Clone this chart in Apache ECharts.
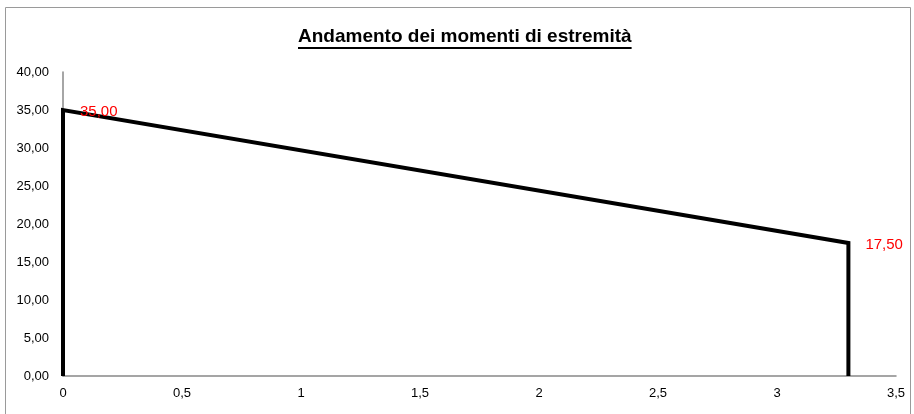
<!DOCTYPE html>
<html>
<head>
<meta charset="utf-8">
<script src="https://cdn.jsdelivr.net/npm/echarts@6/dist/echarts.min.js"></script>
<style>
  html, body { margin: 0; padding: 0; background: #fff; }
  #chart { width: 914px; height: 414px; }
</style>
</head>
<body>
<div id="chart"></div>
<script>
// Moment diagram along the beam: x position (m) and end moment values
const positions = [0, 0, 3.3, 3.3];
const moments = [0, 35.0, 17.5, 0];
const labelledPoints = [1, 2];   // indices that show their value
const titleText = 'Andamento dei momenti di estremità';

const comma = (v, d) => v.toFixed(d).replace('.', ',');
const xFmt = v => String(v).replace('.', ',');

const chart = echarts.init(document.getElementById('chart'));

// title is centred a little right of the page centre; measure it for the underline
const titleFamily = '"Liberation Sans", Arial, sans-serif';
const titleSize = 19;
const ctx = document.createElement('canvas').getContext('2d');
ctx.font = 'bold ' + titleSize + 'px ' + titleFamily;
const tw = ctx.measureText(titleText).width;
const cx = 465;

const data = positions.map((x, i) => ({
  value: [x, moments[i]],
  label: { show: labelledPoints.includes(i) }
}));

chart.setOption({
  animation: false,
  title: {
    text: titleText,
    left: Math.round(cx - tw / 2),
    top: 27,
    padding: 0,
    textStyle: {
      fontFamily: titleFamily,
      fontWeight: 'bold',
      fontSize: titleSize,
      color: '#000'
    }
  },
  graphic: [
    { type: 'rect', shape: { x: 5.5, y: 7.5, width: 905, height: 430 },
      style: { fill: 'none', stroke: '#9a9a9a', lineWidth: 1 }, silent: true },
    { type: 'line', shape: { x1: Math.round(cx - tw / 2), y1: 48, x2: Math.round(cx - tw / 2) + tw, y2: 48 },
      style: { stroke: '#000', lineWidth: 2 }, silent: true }
  ],
  grid: { left: 63, right: 18, top: 72, bottom: 38 },
  xAxis: {
    type: 'value', min: 0, max: 3.5, interval: 0.5,
    axisLine: { lineStyle: { color: '#888', width: 1.5 } },
    axisTick: { show: false },
    splitLine: { show: false },
    axisLabel: {
      formatter: xFmt, color: '#000', fontSize: 13, margin: 11,
      fontFamily: '"Liberation Sans", Arial, sans-serif'
    }
  },
  yAxis: {
    type: 'value', min: 0, max: 40, interval: 5,
    axisLine: { show: true, lineStyle: { color: '#888', width: 1.5 } },
    axisTick: { show: false },
    splitLine: { show: false },
    axisLabel: {
      formatter: v => comma(v, 2), color: '#000', fontSize: 13, margin: 14,
      fontFamily: '"Liberation Sans", Arial, sans-serif'
    }
  },
  series: [{
    type: 'line',
    data: data,
    showSymbol: true,
    symbol: 'circle',
    symbolSize: 0,
    lineStyle: { color: '#000', width: 4, join: 'miter' },
    itemStyle: { color: '#000' },
    label: {
      position: 'right',
      distance: 17,
      offset: [0, 2],
      color: '#ff0000',
      fontSize: 15,
      fontFamily: '"Liberation Sans", Arial, sans-serif',
      formatter: p => comma(p.value[1], 2)
    }
  }]
});
</script>
</body>
</html>
